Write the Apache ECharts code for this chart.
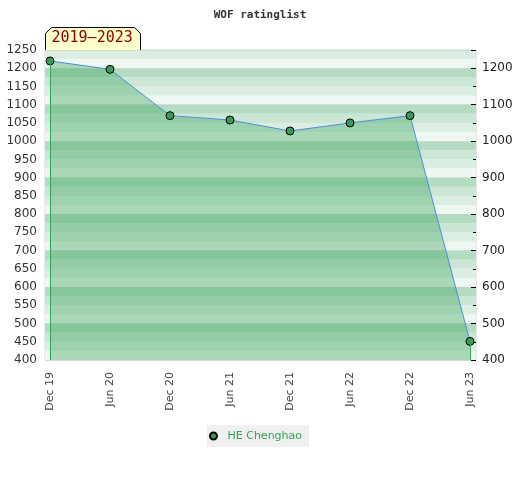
<!DOCTYPE html>
<html>
<head>
<meta charset="utf-8">
<script src="https://cdn.jsdelivr.net/npm/echarts@6/dist/echarts.min.js"></script>
<style>html,body{margin:0;padding:0;background:#fff}#c{width:520px;height:480px}</style>
</head>
<body>
<div id="c"></div>
<script>
var categories = ['Dec 19','Jun 20','Dec 20','Jun 21','Dec 21','Jun 22','Dec 22','Jun 23'];
var ratings = [1220, 1197, 1070, 1058, 1028, 1050, 1070, 451];
var seriesName = 'HE Chenghao';
var periodLabel = '2019–2023';
var yMin = 400, yMax = 1250;

var chart = echarts.init(document.getElementById('c'));
var last = ratings.length - 1;
var plain = function (v) { return String(v); };
chart.setOption({
  animation: false,
  title: {
    text: 'WOF ratinglist', left: 'center', top: 5,
    textStyle: {fontFamily: 'DejaVu Sans Mono', fontWeight: 'bold', fontSize: 11, color: '#333'}
  },
  graphic: [{
    type: 'group', left: 45, top: 27,
    children: [
      {type: 'polygon', shape: {points: [[0,6],[6,0],[89,0],[95,6],[95,23],[0,23]]},
       style: {fill: '#ffffcc', stroke: '#000', lineWidth: 1}},
      {type: 'text', left: 6, top: 3,
       style: {text: periodLabel, fill: '#8b0000', font: '15px "DejaVu Sans Mono"'}}
    ]
  }],
  legend: {
    top: 425, left: 207, icon: 'circle', itemWidth: 18, itemHeight: 7,
    backgroundColor: '#f0f0f0', padding: [5, 7, 5, 2], itemGap: 8,
    textStyle: {color: '#33a354', fontSize: 11, fontFamily: 'DejaVu Sans', lineHeight: 12},
    data: [seriesName]
  },
  grid: [
    {left: 45, right: 44, top: 50, bottom: 120, show: true, borderColor: '#d4d4d4', borderWidth: 1, backgroundColor: 'transparent'},
    {left: 50, right: 50, top: 50, bottom: 120}
  ],
  xAxis: [
    {gridIndex: 0, type: 'value', min: 0, max: 1, show: false},
    {gridIndex: 1, type: 'category', data: categories, boundaryGap: false,
     axisLine: {show: false}, axisTick: {show: false},
     axisLabel: {rotate: 90, margin: 12, fontSize: 11, color: '#444', fontFamily: 'DejaVu Sans', interval: 0}}
  ],
  yAxis: [
    {gridIndex: 0, type: 'value', min: yMin, max: yMax, interval: 25, position: 'left',
     axisLabel: {show: false}, axisLine: {show: false}, axisTick: {show: false},
     splitLine: {show: false},
     splitArea: {show: true, areaStyle: {color: ['#eff7f2', '#dcede3', '#cce6d5', '#b4dcc3']}}},
    {gridIndex: 0, type: 'value', min: yMin, max: yMax, interval: 50, position: 'left',
     axisLine: {show: false}, axisTick: {show: false}, splitLine: {show: false},
     axisLabel: {margin: 8, fontSize: 12, color: '#333', fontFamily: 'DejaVu Sans', formatter: plain}},
    {gridIndex: 0, type: 'value', min: yMin, max: yMax, interval: 100, position: 'right',
     axisLine: {show: false},
     axisTick: {show: true, inside: true, length: 5, lineStyle: {color: '#000'}},
     minorTick: {show: true, splitNumber: 2, length: 3, lineStyle: {color: '#000'}},
     splitLine: {show: true, lineStyle: {color: 'rgba(200,205,202,0.6)', width: 1}},
     axisLabel: {margin: 6, fontSize: 12, color: '#222', fontFamily: 'DejaVu Sans', showMaxLabel: false, formatter: plain}},
    {gridIndex: 1, type: 'value', min: yMin, max: yMax, show: false, splitLine: {show: false}}
  ],
  series: [{
    name: seriesName, type: 'line', xAxisIndex: 1, yAxisIndex: 3,
    data: ratings,
    symbol: 'circle', symbolSize: 8,
    itemStyle: {color: '#3a9a5a', borderColor: '#000', borderWidth: 1},
    lineStyle: {color: '#4a90d9', width: 1},
    areaStyle: {color: 'rgba(58,164,92,0.55)', origin: 'start'},
    markLine: {
      silent: true, symbol: 'none', label: {show: false},
      lineStyle: {color: '#33a354', width: 1, type: 'solid'},
      data: [
        [{coord: [0, ratings[0]]}, {coord: [0, yMin]}],
        [{coord: [last, ratings[last]]}, {coord: [last, yMin]}]
      ]
    },
    z: 3
  }]
});
</script>
</body>
</html>
